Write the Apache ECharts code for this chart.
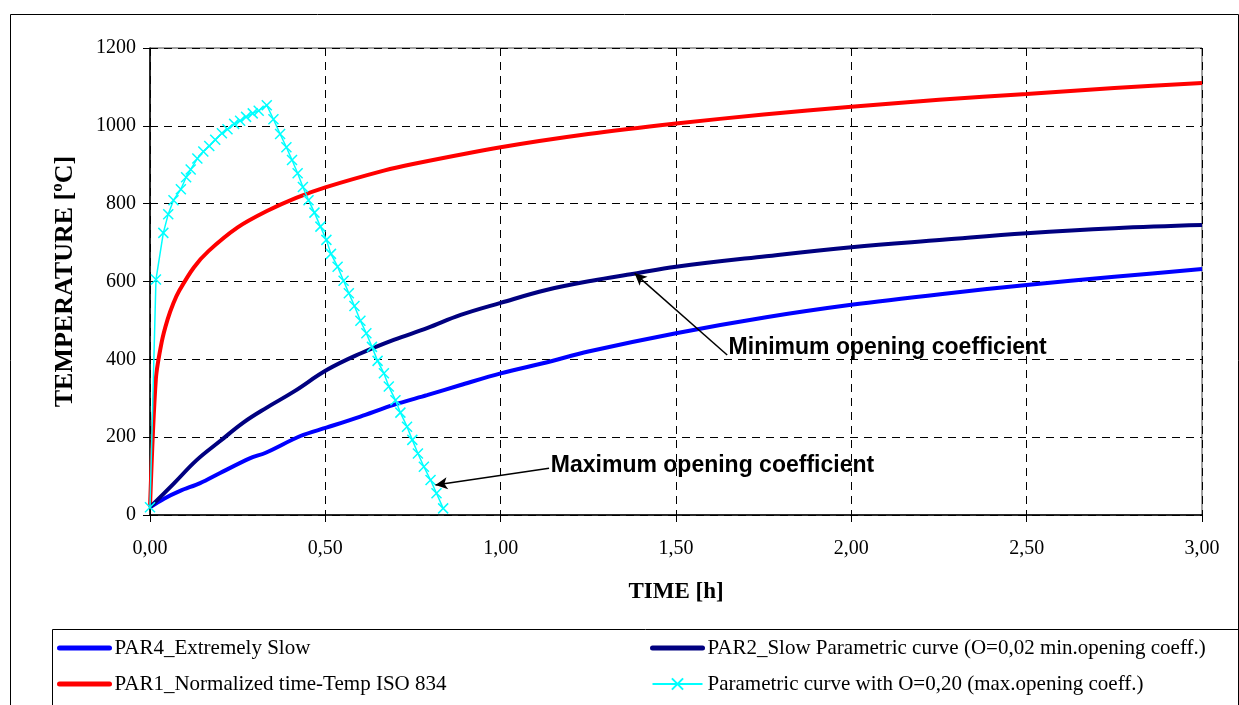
<!DOCTYPE html>
<html>
<head>
<meta charset="utf-8">
<script src="https://cdn.jsdelivr.net/npm/echarts@6/dist/echarts.min.js"></script>
<style>
html,body{margin:0;padding:0;background:#fff;}
#chart{width:1239px;height:705px;}
</style>
</head>
<body>
<div id="chart"></div>
<script>
// ---- DATA ----
const seriesNames = [
  'PAR4_Extremely Slow',
  'PAR1_Normalized time-Temp ISO 834',
  'PAR2_Slow Parametric curve (O=0,02 min.opening coeff.)',
  'Parametric curve with O=0,20 (max.opening coeff.)'
];
// PAR4 (blue)
const par4Time = [0, 0.04, 0.086, 0.143, 0.2, 0.286, 0.33, 0.429, 0.505, 0.6, 0.695, 0.79, 0.886, 1.0, 1.13, 1.25, 1.5, 1.757, 2.0, 2.26, 2.5, 2.75, 3.0];
const par4Temp = [20, 42, 62, 82, 108, 146, 160, 203, 225, 253, 283, 308, 334, 364, 392, 420, 467, 508, 540, 568, 591, 612, 632];
// PAR1 ISO 834 (red)
const par1Time = [0, 0.0167, 0.0333, 0.05, 0.0667, 0.0833, 0.125, 0.1667, 0.25, 0.3333, 0.4167, 0.5, 0.6667, 0.75, 1.0, 1.25, 1.5, 1.75, 2.0, 2.25, 2.5, 2.75, 3.0];
const par1Temp = [20, 349, 444, 502, 544, 576, 636, 678, 739, 781, 815, 842, 885, 902, 945, 979, 1006, 1029, 1049, 1067, 1082, 1097, 1110];
// PAR2 (navy)
const par2Time = [0, 0.067, 0.133, 0.2, 0.267, 0.333, 0.41, 0.505, 0.6, 0.695, 0.79, 0.886, 1.0, 1.13, 1.26, 1.38, 1.5, 1.757, 2.0, 2.26, 2.5, 2.75, 3.0];
const par2Temp = [20, 80, 141, 190, 238, 276, 317, 373, 415, 450, 480, 514, 545, 578, 602, 620, 638, 665, 688, 707, 724, 737, 745];
// O=0,20 (cyan, with x markers)
const maxOTime = [0, 0.017, 0.038, 0.052, 0.067, 0.088, 0.103, 0.116, 0.135, 0.152, 0.169, 0.186, 0.205, 0.221, 0.240, 0.257, 0.274, 0.293, 0.310, 0.333,
  0.352, 0.371, 0.389, 0.405, 0.421, 0.436, 0.452, 0.469, 0.486, 0.503, 0.516, 0.535, 0.552, 0.567, 0.583, 0.600, 0.617, 0.633, 0.649, 0.667,
  0.681, 0.700, 0.714, 0.733, 0.748, 0.764, 0.781, 0.800, 0.817, 0.836];
const maxOTemp = [20, 605, 725, 773, 809, 837, 868, 888, 916, 934, 948, 964, 981, 991, 1005, 1013, 1023, 1032, 1039, 1053,
  1017, 979, 945, 912, 878, 843, 809, 777, 741, 707, 671, 638, 602, 570, 537, 499, 467, 432, 396, 364,
  330, 295, 263, 227, 193, 158, 124, 90, 56, 17];
// Annotations (data coordinates)
const minNoteText = 'Minimum opening coefficient';
const minNoteFrom = [1.646, 411];
const minNoteTo = [1.382, 621];
const minNoteLabel = [1.650, 429];
const maxNoteText = 'Maximum opening coefficient';
const maxNoteFrom = [1.138, 120];
const maxNoteTo = [0.814, 77];
const maxNoteLabel = [1.143, 128];
// Axis
const xMin = 0, xMax = 3, xStep = 0.5;
const yMin = 0, yMax = 1200, yStep = 200;
const xTitle = 'TIME [h]';
const yTitle = 'TEMPERATURE [ºC]';

const pairs = (t, v) => t.map((x, i) => [x, v[i]]);
const serif = '"Liberation Serif","Times New Roman",serif';
const sans = '"Liberation Sans",Arial,sans-serif';

const arrowLine = (from, to) => ({
  silent: true,
  symbol: ['none', 'arrow'],
  symbolSize: [9, 12],
  lineStyle: { color: '#000', width: 1.5, type: 'solid' },
  label: { show: false },
  emphasis: { disabled: true },
  data: [[{ coord: from }, { coord: to }]]
});
const noteLabel = (pos, text) => ({
  silent: true,
  symbol: 'circle',
  symbolSize: 0,
  itemStyle: { color: 'rgba(0,0,0,0)' },
  label: { show: true, position: 'right', distance: 0, formatter: text,
           fontFamily: sans, fontWeight: 'bold', fontSize: 23, color: '#000' },
  data: [{ coord: pos }]
});
const thickItem = (name, color) => ({
  name: name,
  itemStyle: { opacity: 0 },
  lineStyle: { color: color, width: 5, cap: 'round' }
});
const legendText = { fontFamily: serif, fontSize: 21, color: '#000', lineHeight: 22 };

const chart = echarts.init(document.getElementById('chart'), null, { renderer: 'canvas' });
chart.setOption({
  animation: false,
  backgroundColor: '#fff',
  grid: { left: 150, right: 37, top: 48, bottom: 190, show: true, borderColor: '#444', borderWidth: 1 },
  xAxis: {
    type: 'value', min: xMin, max: xMax, interval: xStep,
    name: xTitle, nameLocation: 'middle', nameGap: 66,
    nameTextStyle: { fontFamily: serif, fontWeight: 'bold', fontSize: 23, color: '#000' },
    axisLine: { onZero: false, lineStyle: { color: '#000', width: 1.5 } },
    axisTick: { show: true, inside: false, length: 7, lineStyle: { color: '#000' } },
    axisLabel: { fontFamily: serif, fontSize: 20, color: '#000', margin: 24,
                 formatter: v => v.toFixed(2).replace('.', ',') },
    splitLine: { show: true, lineStyle: { color: '#000', type: [8, 6], width: 1 } }
  },
  yAxis: {
    type: 'value', min: yMin, max: yMax, interval: yStep,
    name: yTitle, nameLocation: 'middle', nameGap: 72, nameRotate: 90,
    nameTextStyle: { fontFamily: serif, fontWeight: 'bold', fontSize: 26, color: '#000' },
    axisLine: { show: true, lineStyle: { color: '#000', width: 1.5 } },
    axisTick: { show: true, inside: false, length: 7, lineStyle: { color: '#000' } },
    axisLabel: { fontFamily: serif, fontSize: 20, color: '#000', margin: 14,
                 formatter: v => String(v) },
    splitLine: { show: true, lineStyle: { color: '#000', type: [8, 6], width: 1 } }
  },
  legend: [
    { orient: 'vertical', left: 57, top: 637, padding: 0, itemWidth: 50, itemHeight: 14, itemGap: 14,
      textStyle: legendText, selectedMode: false,
      data: [thickItem(seriesNames[0], '#0000FF'), thickItem(seriesNames[1], '#FF0000')] },
    { orient: 'vertical', left: 650, top: 637, padding: 0, itemWidth: 50, itemHeight: 14, itemGap: 14,
      textStyle: legendText, selectedMode: false,
      data: [thickItem(seriesNames[2], '#000080'), { name: seriesNames[3] }] }
  ],
  graphic: [
    { type: 'rect', left: 8, top: 12, shape: { width: 1228, height: 700 },
      style: { fill: 'none', stroke: '#000', lineWidth: 1 }, silent: true, z: -1 },
    { type: 'rect', left: 50, top: 627, shape: { width: 1186, height: 76 },
      style: { fill: 'none', stroke: '#000', lineWidth: 1 }, silent: true, z: -1 }
  ],
  series: [
    { name: seriesNames[0], type: 'line', data: pairs(par4Time, par4Temp), smooth: 0.3,
      showSymbol: false, lineStyle: { color: '#0000FF', width: 4 }, itemStyle: { color: '#0000FF' }, z: 2 },
    { name: seriesNames[1], type: 'line', data: pairs(par1Time, par1Temp), smooth: 0.3,
      showSymbol: false, lineStyle: { color: '#FF0000', width: 4 }, itemStyle: { color: '#FF0000' }, z: 2 },
    { name: seriesNames[2], type: 'line', data: pairs(par2Time, par2Temp), smooth: 0.4,
      showSymbol: false, lineStyle: { color: '#000080', width: 4 }, itemStyle: { color: '#000080' }, z: 3,
      markLine: arrowLine(minNoteFrom, minNoteTo),
      markPoint: noteLabel(minNoteLabel, minNoteText) },
    { name: seriesNames[3], type: 'line', data: pairs(maxOTime, maxOTemp), smooth: false,
      showSymbol: true, showAllSymbol: true, symbol: 'path://M0,0L10,10M10,0L0,10', symbolSize: 10,
      lineStyle: { color: '#00FFFF', width: 1.5 },
      itemStyle: { color: '#00FFFF', borderColor: '#00FFFF', borderWidth: 1.5 }, z: 4,
      markLine: arrowLine(maxNoteFrom, maxNoteTo),
      markPoint: noteLabel(maxNoteLabel, maxNoteText) }
  ]
});
</script>
</body>
</html>
